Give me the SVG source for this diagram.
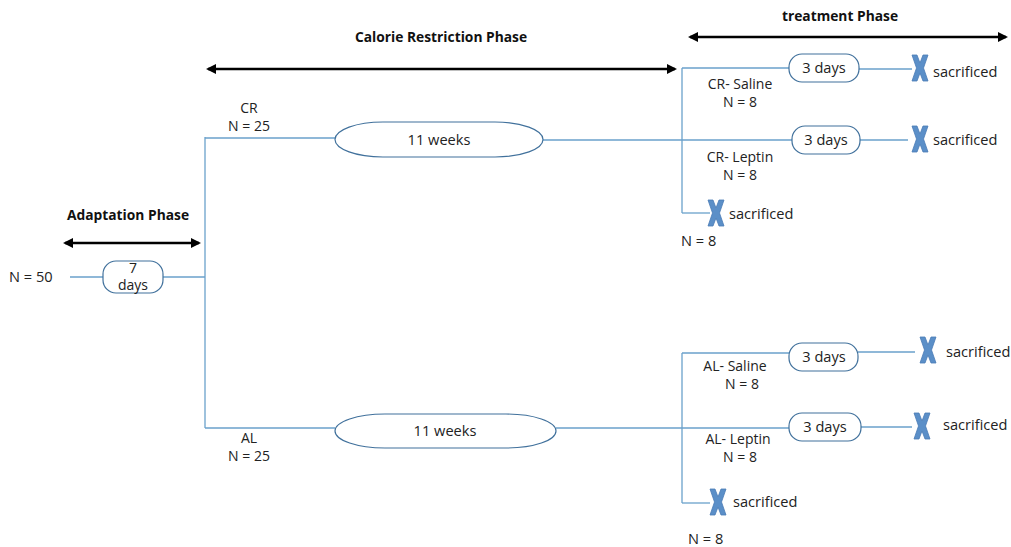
<svg xmlns="http://www.w3.org/2000/svg" width="1011" height="547" viewBox="0 0 1011 547">
<style>
text{font-family:"Open Sans","Liberation Sans",sans-serif;font-size:14.6px;fill:#222}
.h{font-weight:bold;font-size:13.8px;fill:#111}
.c{text-anchor:middle}
.m{font-size:14px}
.ln{stroke:#6aa1cb;stroke-width:1.3;fill:none}
.bx{fill:#fff;stroke:#41719c;stroke-width:1.2}
.ar{stroke:#000;stroke-width:2.5;fill:none;marker-start:url(#ah);marker-end:url(#ah)}
</style>
<defs>
<marker id="ah" viewBox="0 0 10 10" refX="8" refY="5" markerWidth="4" markerHeight="4" orient="auto-start-reverse"><path d="M0,0 L10,5 L0,10 Z" fill="#000"/></marker>
<path id="x" d="M-8,-13 L-3,-13 L0,-5 L3,-13 L8,-13 L3.5,0 L8,13 L3,13 L0,5 L-3,13 L-8,13 L-3.5,0 Z" fill="#5b8fc8" stroke="#4a7bb5" stroke-width="0.8"/>
</defs>
<rect width="1011" height="547" fill="#fff"/>
<g id="headers">
<text class="h c" x="128" y="220">Adaptation Phase</text>
<line class="ar" x1="65" y1="243" x2="199" y2="243"/>
<text class="h c" x="441" y="42">Calorie Restriction Phase</text>
<line class="ar" x1="208" y1="69" x2="675" y2="69"/>
<text class="h c" x="840" y="21">treatment Phase</text>
<line class="ar" x1="690" y1="37" x2="1006" y2="37"/>
</g>
<g id="connectors">
<line class="ln" x1="70" y1="277" x2="103" y2="277"/>
<line class="ln" x1="163" y1="277" x2="205" y2="277"/>
<line class="ln" x1="205" y1="137" x2="205" y2="428"/>
<line class="ln" x1="205" y1="138" x2="335" y2="138"/>
<line class="ln" x1="543" y1="140" x2="682" y2="140"/>
<line class="ln" x1="205" y1="428" x2="335" y2="428"/>
<line class="ln" x1="556" y1="428" x2="682" y2="428"/>
<line class="ln" x1="682" y1="68" x2="682" y2="213"/>
<line class="ln" x1="682" y1="68" x2="789" y2="68"/>
<line class="ln" x1="859" y1="69" x2="912" y2="69"/>
<line class="ln" x1="682" y1="140" x2="792" y2="140"/>
<line class="ln" x1="860" y1="140" x2="908" y2="140"/>
<line class="ln" x1="682" y1="213" x2="710" y2="213"/>
<line class="ln" x1="682" y1="353" x2="682" y2="503"/>
<line class="ln" x1="682" y1="353" x2="789" y2="353"/>
<line class="ln" x1="858" y1="352" x2="915" y2="352"/>
<line class="ln" x1="682" y1="428" x2="789" y2="428"/>
<line class="ln" x1="861" y1="427" x2="912" y2="427"/>
<line class="ln" x1="682" y1="503" x2="710" y2="503"/>
</g>
<g id="start"><text x="9" y="282">N = 50</text></g>
<g id="adapt"><rect class="bx" x="103" y="261" width="60" height="32" rx="13"/><text class="c m" x="133" y="273">7<tspan x="133" dy="17">days</tspan></text></g>
<g id="cr"><text class="c m" x="249" y="113">CR<tspan x="249" dy="18">N = 25</tspan></text><rect class="bx" x="335" y="122" width="208" height="35" rx="48" ry="17.5"/><text class="c" x="439" y="145">11 weeks</text></g>
<g id="al"><text class="c m" x="249" y="443">AL<tspan x="249" dy="17.5">N = 25</tspan></text><rect class="bx" x="335" y="414" width="221" height="34" rx="50" ry="17"/><text class="c" x="445" y="436">11 weeks</text></g>
<g id="cr-saline"><rect class="bx" x="789" y="54" width="70" height="28" rx="13"/><text class="c" x="824" y="73">3 days</text><text class="c m" x="740" y="89">CR- Saline<tspan x="740" dy="17.5">N = 8</tspan></text><use href="#x" x="920" y="68"/><text x="933" y="77">sacrificed</text></g>
<g id="cr-leptin"><rect class="bx" x="792" y="126" width="68" height="28" rx="13"/><text class="c" x="826" y="145">3 days</text><text class="c m" x="740" y="162">CR- Leptin<tspan x="740" dy="17.5">N = 8</tspan></text><use href="#x" x="920" y="139"/><text x="933" y="145">sacrificed</text></g>
<g id="cr-ctrl"><use href="#x" x="716" y="213"/><text x="729" y="219">sacrificed</text><text x="681" y="246">N = 8</text></g>
<g id="al-saline"><rect class="bx" x="789" y="343" width="69" height="28" rx="13"/><text class="c" x="824" y="362">3 days</text><text class="c m" x="735" y="371">AL- Saline<tspan x="742" dy="17.5">N = 8</tspan></text><use href="#x" x="928" y="350"/><text x="946" y="357">sacrificed</text></g>
<g id="al-leptin"><rect class="bx" x="789" y="413" width="72" height="28" rx="13"/><text class="c" x="825" y="432">3 days</text><text class="c m" x="738" y="444">AL- Leptin<tspan x="740" dy="17.5">N = 8</tspan></text><use href="#x" x="922" y="426"/><text x="943" y="430">sacrificed</text></g>
<g id="al-ctrl"><use href="#x" x="718" y="502"/><text x="733" y="507">sacrificed</text><text x="688" y="544">N = 8</text></g>
</svg>
